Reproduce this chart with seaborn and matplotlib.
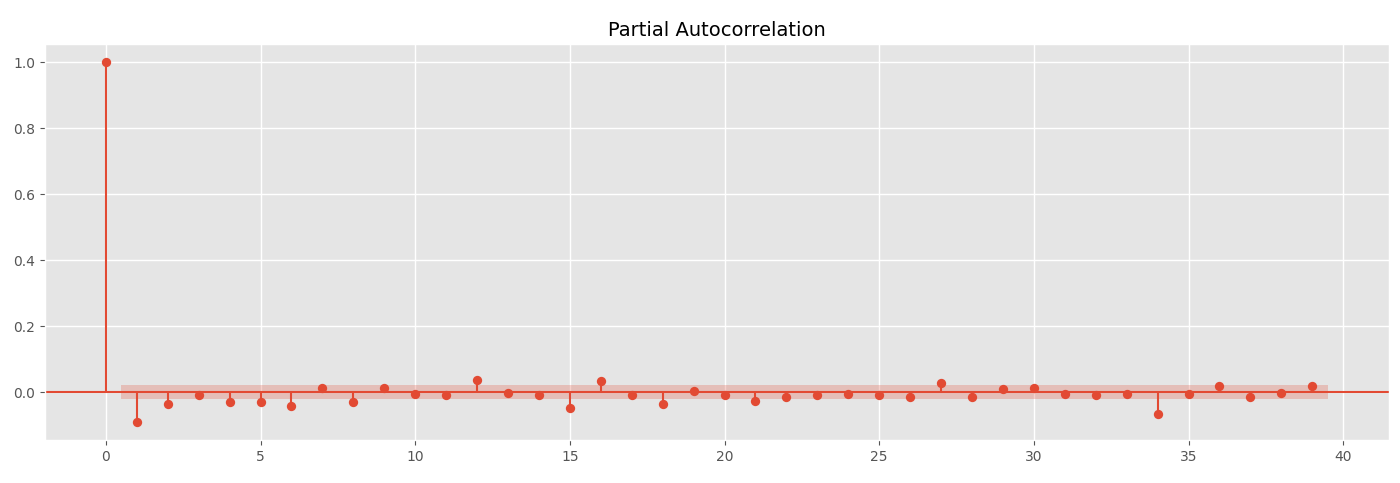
import numpy as np
import pandas as pd
import seaborn as sns
import matplotlib
matplotlib.use("Agg")
import matplotlib.pyplot as plt

# PACF values (lag 0..39)
lags = list(range(40))
pacf_vals = [1.0, -0.091, -0.035, -0.009, -0.031, -0.031, -0.043, 0.011, -0.031, 0.013,
             -0.006, -0.010, 0.037, -0.002, -0.010, -0.048, 0.035, -0.010, -0.035, 0.002,
             -0.010, -0.026, -0.014, -0.010, -0.006, -0.010, -0.014, 0.026, -0.014, 0.010,
             0.013, -0.006, -0.010, -0.006, -0.067, -0.006, 0.018, -0.014, -0.002, 0.018]
conf_half = 0.0215  # confidence band half width

red = "#E24A33"

plt.style.use("ggplot")
sns.set_style({"axes.facecolor": "#E5E5E5", "grid.color": "white", "axes.edgecolor": "white"})

df = pd.DataFrame({"lag": lags, "pacf": pacf_vals})

fig, ax = plt.subplots(figsize=(14, 4.83), dpi=100)
fig.subplots_adjust(left=0.032, right=0.992, top=0.908, bottom=0.089)

# stems
ax.vlines(df["lag"], 0, df["pacf"], color=red, linewidth=1.5)
# markers
sns.scatterplot(data=df, x="lag", y="pacf", color=red, s=45, edgecolor=red,
                linewidth=0, ax=ax, zorder=3)
ax.axhline(0, color=red, linewidth=1.5)

# confidence band
band_x = np.array(lags[1:], dtype=float)
band_x[0] -= 0.5
band_x[-1] += 0.5
ax.fill_between(band_x, -conf_half, conf_half, color=red, alpha=0.25, linewidth=0)

ax.set_title("Partial Autocorrelation", fontsize=14, color="black")
ax.set_xlabel("")
ax.set_ylabel("")
ax.tick_params(colors="#555555", labelsize=10)
ax.set_xticks([0, 5, 10, 15, 20, 25, 30, 35, 40])
ax.set_yticks([0.0, 0.2, 0.4, 0.6, 0.8, 1.0])
ax.margins(0.05)
ax.grid(True, color="white", linewidth=1)

fig.savefig("out.png", dpi=100)
